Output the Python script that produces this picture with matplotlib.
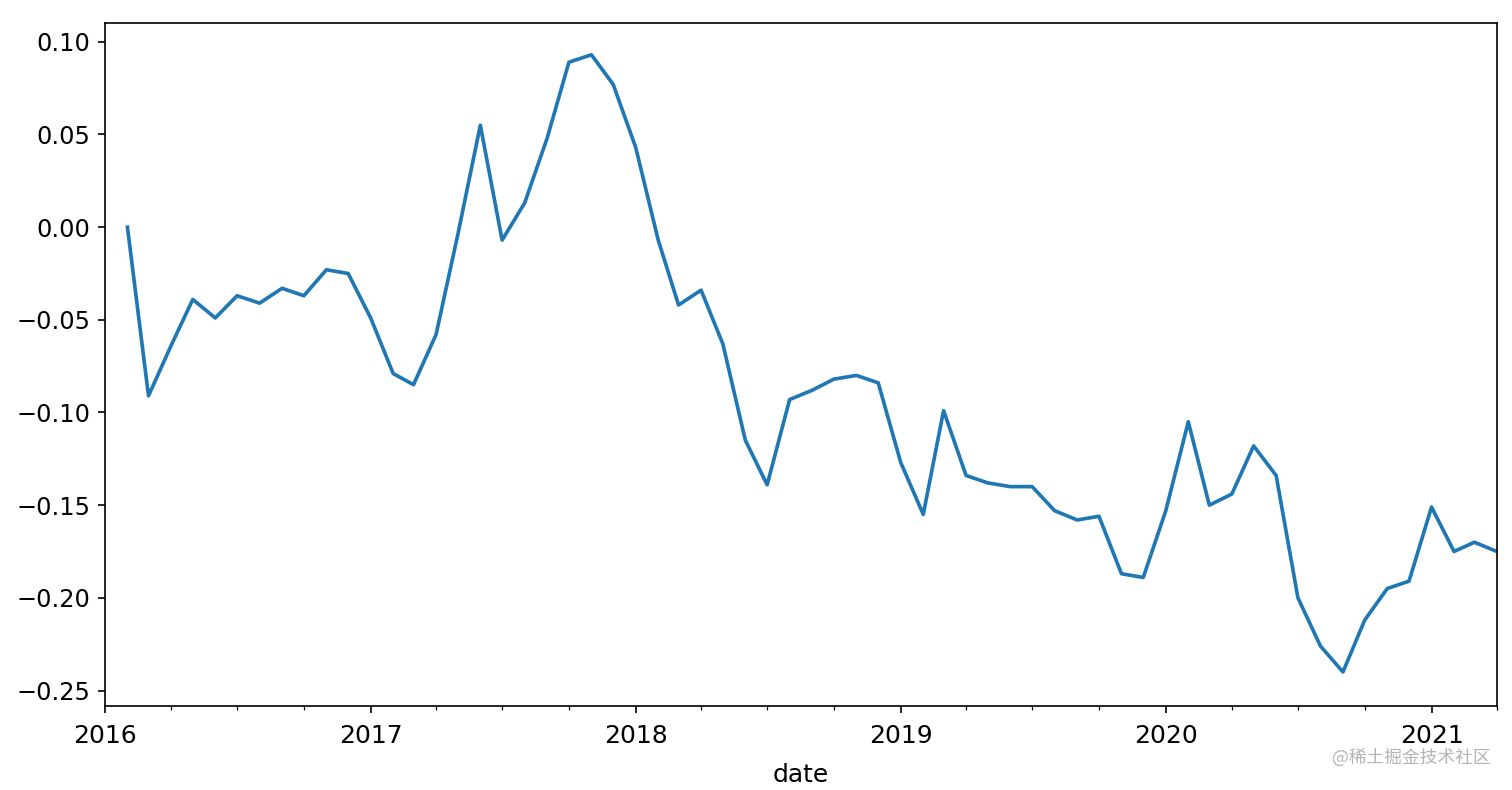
import numpy as np
import pandas as pd
import matplotlib
matplotlib.use('Agg')
import matplotlib.pyplot as plt
import matplotlib.dates as mdates

# monthly values (2016-02 .. 2021-04)
start = '2016-02-01'
vals = [0.000, -0.091, -0.064, -0.039, -0.049, -0.037, -0.041, -0.033, -0.037, -0.023, -0.025,
        -0.049, -0.079, -0.085, -0.058, -0.004, 0.055, -0.007, 0.013, 0.048, 0.089, 0.093, 0.077,
        0.043, -0.007, -0.042, -0.034, -0.063, -0.115, -0.139, -0.093, -0.088, -0.082, -0.080, -0.084,
        -0.127, -0.155, -0.099, -0.134, -0.138, -0.140, -0.140, -0.153, -0.158, -0.156, -0.187, -0.189,
        -0.153, -0.105, -0.150, -0.144, -0.118, -0.134, -0.200, -0.226, -0.240, -0.212, -0.195, -0.191,
        -0.151, -0.175, -0.170, -0.175]
dates = pd.date_range(start, periods=len(vals), freq='MS')

fig = plt.figure(figsize=(10.08, 5.2667), dpi=150)
ax = fig.add_axes([0.0694, 0.106, 0.9206, 0.865])
ax.plot(dates, vals, color='#1f77b4', lw=1.75)

ax.set_xlim(pd.Timestamp('2016-01-01'), dates[-1])
ax.xaxis.set_major_locator(mdates.YearLocator())
ax.xaxis.set_major_formatter(mdates.DateFormatter('%Y'))
ax.xaxis.set_minor_locator(mdates.MonthLocator(bymonth=(4, 7, 10)))
ax.set_yticks([0.10, 0.05, 0.00, -0.05, -0.10, -0.15, -0.20, -0.25])
ax.set_ylim(-0.2585, 0.1102)
ax.tick_params(axis='y', labelsize=11.5)
ax.tick_params(axis='x', which='major', labelsize=12, pad=5)
ax.set_xlabel('date', fontsize=12, labelpad=7)

fig.text(0.986, 1 - 757 / 790, '@稀土掘金技术社区', ha='right', va='center',
         color='#b4b4b4', fontsize=8.5, family=['Noto Sans CJK SC', 'DejaVu Sans'])

fig.savefig('out.png', dpi=150)
